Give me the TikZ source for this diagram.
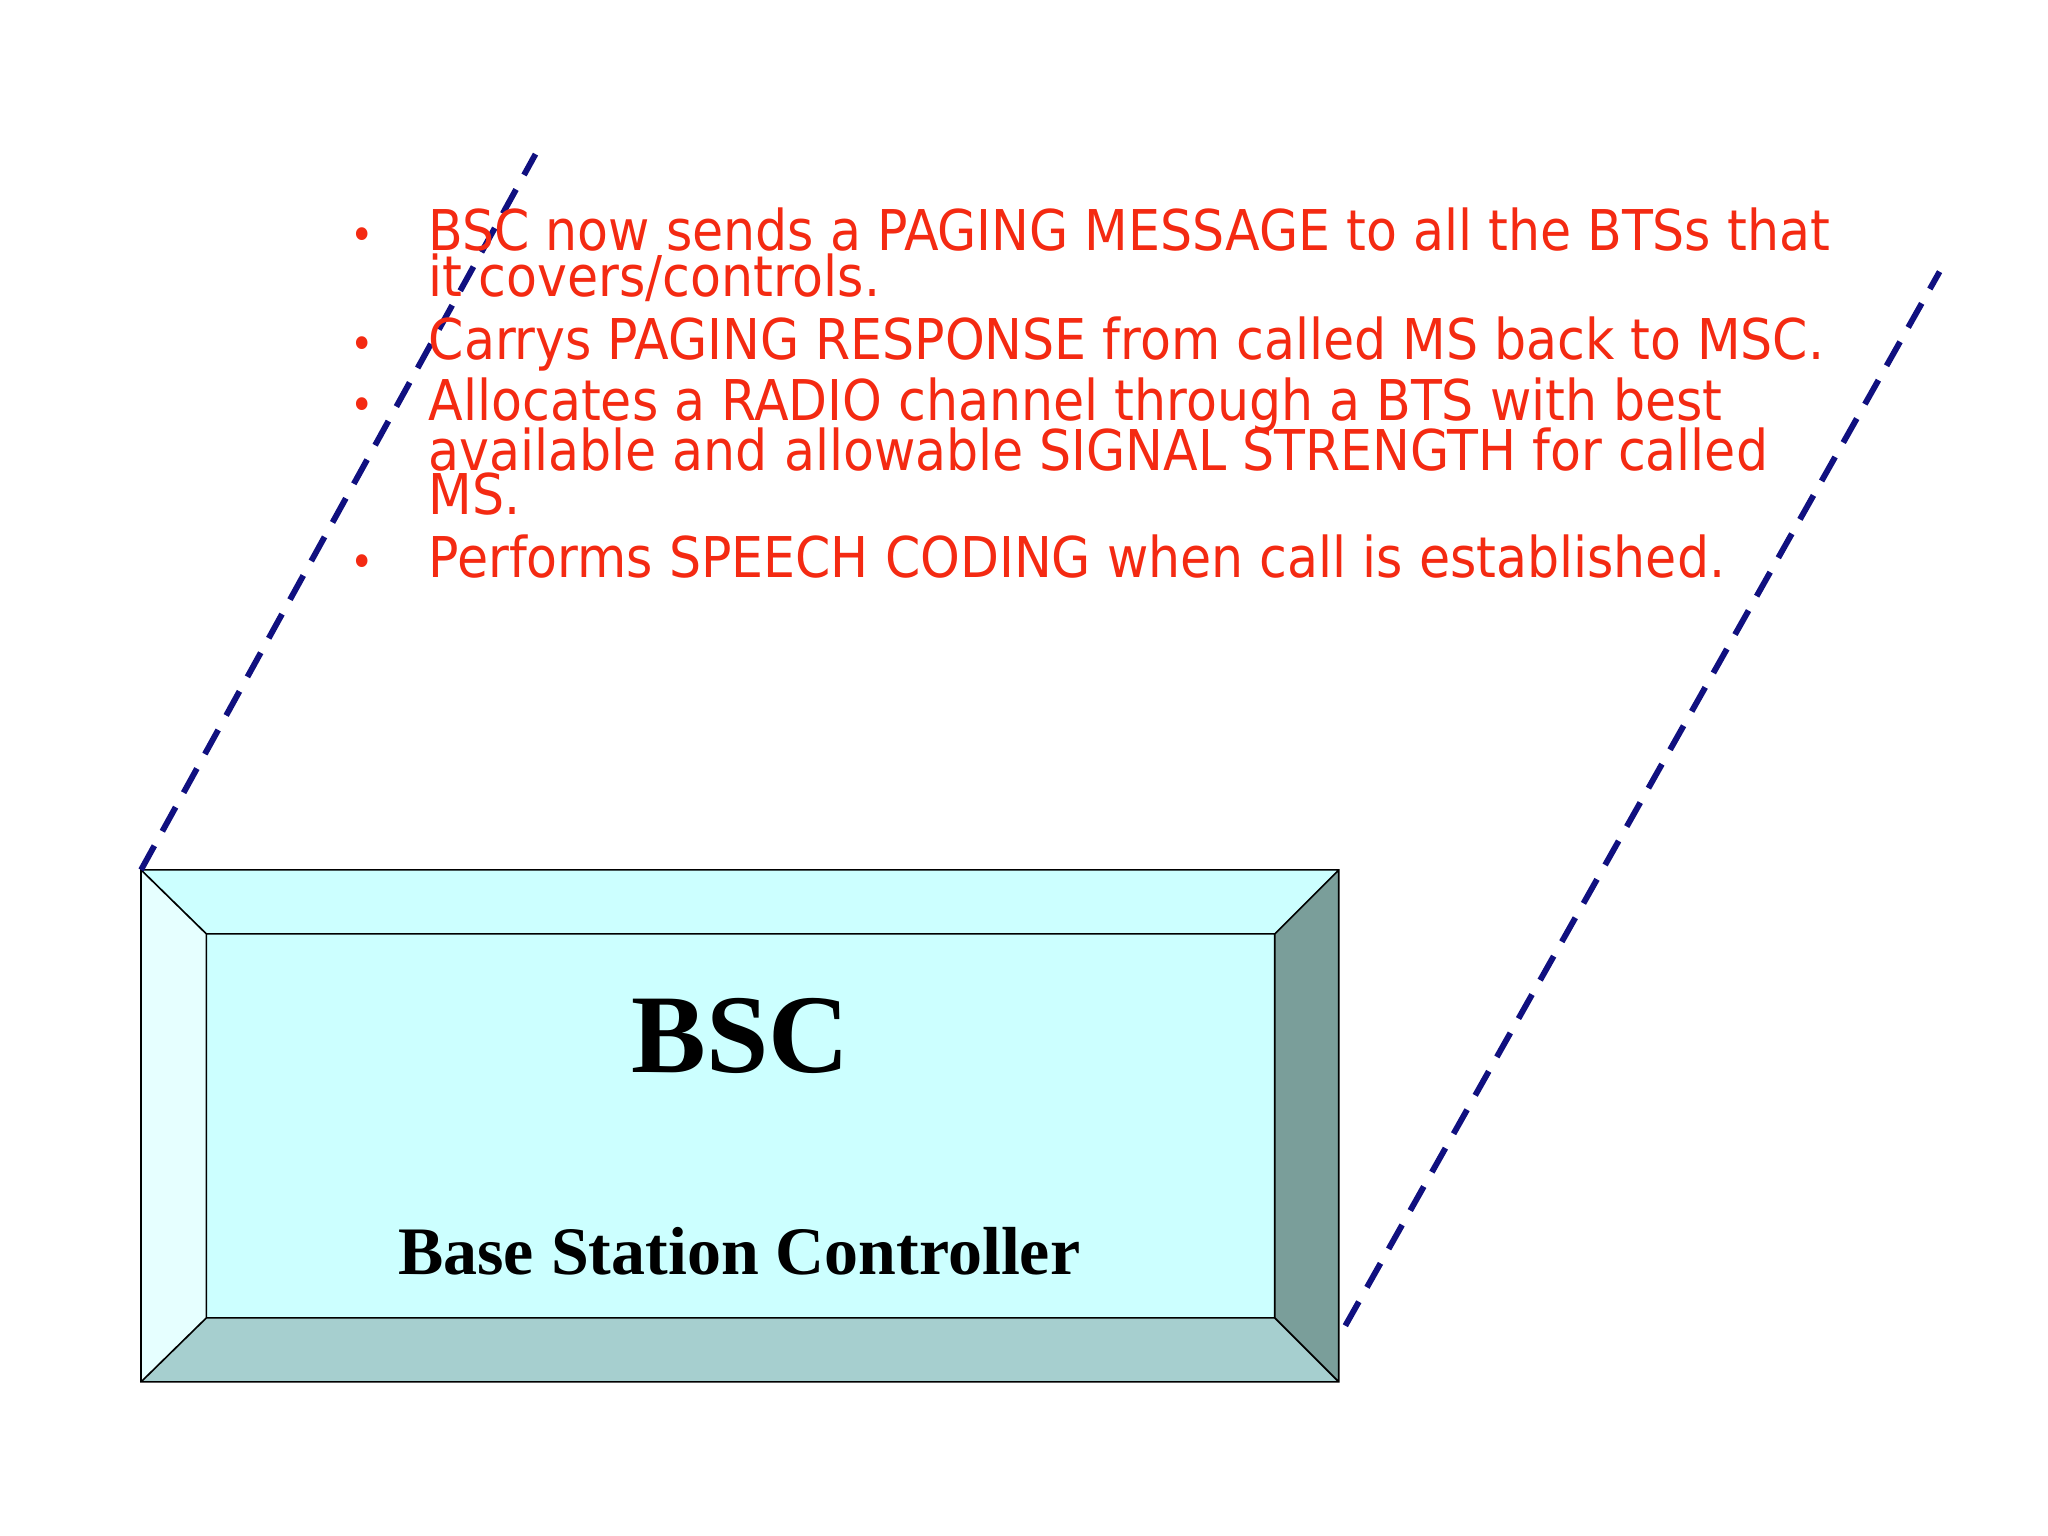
\documentclass[tikz,border=0pt]{standalone}
\usepackage{fontspec}
\setmainfont{Liberation Serif}
\newfontfamily\bul{DejaVu Sans Condensed}
\begin{document}
\begin{tikzpicture}[x=0.025cm,y=-0.025cm,
  bt/.style={anchor=base west,inner sep=0pt,font=\bul\fontsize{30.6}{30}\selectfont,text=txt},
  dot/.style={anchor=base,inner sep=0pt,font=\bul\fontsize{24}{24}\selectfont,text=txt},
  navydash/.style={draw=navy,line width=3.2pt,dash pattern=on 15pt off 9pt}]
\definecolor{txt}{HTML}{F42A12}
\definecolor{navy}{HTML}{101080}
\useasboundingbox (0,0) rectangle (1568,1176);
\fill[white] (0,0) rectangle (1568,1176);
% box
\coordinate (o1) at (108,666); \coordinate (o2) at (1025,666);
\coordinate (o3) at (1025,1058); \coordinate (o4) at (108,1058);
\coordinate (i1) at (158,715); \coordinate (i2) at (976,715);
\coordinate (i3) at (976,1009); \coordinate (i4) at (158,1009);
\fill[fill={rgb,255:red,230;green,255;blue,255}] (o1)--(i1)--(i4)--(o4)--cycle;
\fill[fill={rgb,255:red,204;green,255;blue,255}] (o1)--(o2)--(i2)--(i1)--cycle;
\fill[fill={rgb,255:red,122;green,158;blue,154}] (o2)--(o3)--(i3)--(i2)--cycle;
\fill[fill={rgb,255:red,166;green,207;blue,207}] (o3)--(o4)--(i4)--(i3)--cycle;
\fill[fill={rgb,255:red,204;green,255;blue,255}] (i1) rectangle (i3);
\draw[line width=0.9pt] (o1) rectangle (o3) (i1) rectangle (i3) (o1)--(i1) (o2)--(i2) (o3)--(i3) (o4)--(i4);
\node[font=\bfseries\fontsize{61}{61}\selectfont] (bsc) at (567,793) {BSC};
\node[font=\bfseries\fontsize{37}{37}\selectfont] (bscl) at (566,958) {Base Station Controller};
% dashed lines
\coordinate (d1) at (410,118); \coordinate (d2) at (1030,1015); \coordinate (d3) at (1485,208);
\draw[navydash] (o1) -- (d1);
\draw[navydash] (d2) -- (d3);
% bullets
\foreach \y in {192,275,322,442} \node[dot] at (277,\y) {•};
\node[bt] (l1) at (328,192) {BSC now sends a PAGING MESSAGE to all the BTSs that};
\node[bt] (l2) at (328,227) {it covers/controls.};
\node[bt] (l3) at (328,275) {Carrys PAGING RESPONSE from called MS back to MSC.};
\node[bt] (l4) at (328,322) {Allocates a RADIO channel through a BTS with best};
\node[bt] (l5) at (328,360) {available and allowable SIGNAL STRENGTH for called};
\node[bt] (l6) at (328,394) {MS.};
\node[bt] (l7) at (328,442) {Performs SPEECH CODING when call is established.};
\end{tikzpicture}
\end{document}
